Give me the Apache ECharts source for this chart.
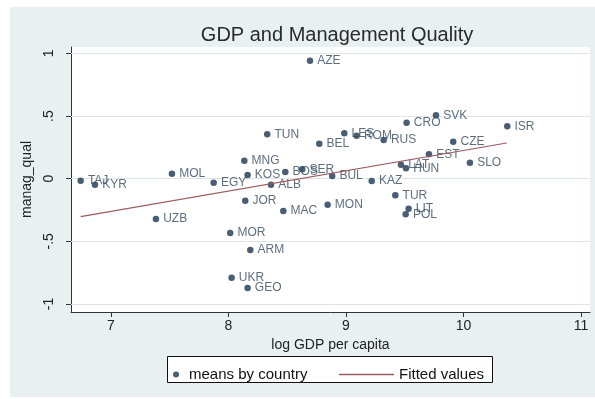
<!DOCTYPE html>
<html>
<head>
<meta charset="utf-8">
<script src="https://cdn.jsdelivr.net/npm/echarts@6/dist/echarts.min.js"></script>
<style>
  html, body { margin: 0; padding: 0; background: #ffffff; }
  #chart { width: 595px; height: 399px; }
</style>
</head>
<body>
<div id="chart"></div>
<script>
// Country codes with mean log GDP per capita and mean management quality
const countries = ['AZE','TUN','BEL','MNG','MOL','KOS','BOS','SER','TAJ','KYR','EGY','ALB','JOR','MAC','MON','UZB','MOR','ARM','UKR','GEO','CRO','SVK','ISR','LES','ROM','RUS','CZE','EST','LAT','HUN','SLO','BUL','KAZ','TUR','LIT','POL'];
const logGdp = [8.694,8.330,8.773,8.135,7.519,8.163,8.484,8.628,6.742,6.864,7.874,8.362,8.143,8.467,8.844,7.383,8.015,8.186,8.027,8.163,9.516,9.766,10.373,8.986,9.091,9.321,9.913,9.706,9.468,9.511,10.055,8.883,9.219,9.420,9.533,9.508];
const managQual = [0.942,0.354,0.279,0.144,0.040,0.030,0.053,0.075,-0.016,-0.048,-0.032,-0.048,-0.176,-0.258,-0.208,-0.322,-0.433,-0.569,-0.790,-0.872,0.447,0.506,0.418,0.362,0.343,0.309,0.295,0.195,0.112,0.083,0.128,0.022,-0.018,-0.132,-0.239,-0.284];

// Fitted regression line, end points
const fitX = [6.742, 10.368];
const fitY = [-0.303, 0.285];

// Axis ticks
const xTicks = [7, 8, 9, 10, 11];
const yTicks = [-1, -0.5, 0, 0.5, 1];
const yTickLabels = ['-1', '-.5', '0', '.5', '1'];

const FONT = 'Liberation Sans, Arial, sans-serif';
const DOT = '#1b3652';
const FIT = '#9a5b5e';

const chart = echarts.init(document.getElementById('chart'), null, { renderer: 'canvas' });

chart.setOption({
  animation: false,
  backgroundColor: 'transparent',
  title: {
    text: 'GDP and Management Quality',
    left: 332,
    textAlign: 'center',
    top: 20,
    textStyle: { fontFamily: FONT, fontSize: 20, fontWeight: 'normal', color: '#2a2a2a' }
  },
  graphic: [
    { type: 'rect', z: -10, silent: true,
      shape: { x: 10, y: 7, width: 585, height: 390 },
      style: { fill: '#e9f0f2' } },
    { type: 'rect', z: 10, silent: true,
      shape: { x: 167.5, y: 356.5, width: 325, height: 26 },
      style: { fill: '#ffffff', stroke: '#111', lineWidth: 1 } }
  ],
  grid: {
    left: 71, right: 5, top: 47, bottom: 87,
    show: true, backgroundColor: '#ffffff', borderWidth: 0
  },
  legend: [
    {
      data: ['means by country'],
      left: 168, top: 362, z: 20,
      itemWidth: 16, itemHeight: 6, icon: 'circle',
      textStyle: { fontFamily: FONT, fontSize: 15, color: '#111' }
    },
    {
      data: [{ name: 'Fitted values', icon: 'rect' }],
      left: 334, top: 362, z: 20,
      itemWidth: 55, itemHeight: 1.5,
      textStyle: { fontFamily: FONT, fontSize: 15, color: '#111' }
    }
  ],
  xAxis: {
    type: 'value',
    min: 6.66, max: 11.077,
    name: 'log GDP per capita',
    nameLocation: 'middle',
    nameGap: 20,
    nameTextStyle: { fontFamily: FONT, fontSize: 14, color: '#222' },
    axisLine: { show: true, onZero: false, lineStyle: { color: '#333', width: 1 } },
    axisTick: { show: true, length: 5, customValues: xTicks, lineStyle: { color: '#333' } },
    axisLabel: { customValues: xTicks, fontFamily: FONT, fontSize: 14, color: '#222', margin: 7 },
    splitLine: { show: false }
  },
  yAxis: {
    type: 'value',
    min: -1.064, max: 1.051,
    name: 'manag_qual',
    nameLocation: 'middle',
    nameGap: 33,
    nameTextStyle: { fontFamily: FONT, fontSize: 14, color: '#222' },
    axisLine: { show: true, onZero: false, lineStyle: { color: '#333', width: 1 } },
    axisTick: { show: true, length: 5, customValues: yTicks, lineStyle: { color: '#333' } },
    axisLabel: {
      customValues: yTicks, rotate: 90, margin: 15,
      fontFamily: FONT, fontSize: 14, color: '#222',
      formatter: v => yTickLabels[yTicks.findIndex(t => Math.abs(t - v) < 1e-9)]
    },
    splitLine: { show: false }
  },
  series: [
    {
      name: 'means by country',
      type: 'scatter',
      z: 3,
      symbol: 'circle',
      symbolSize: 6.5,
      itemStyle: { color: DOT },
      data: logGdp.map((x, i) => [x, managQual[i], countries[i]]),
      label: {
        show: true,
        position: 'right',
        distance: 4,
        formatter: p => p.value[2],
        fontFamily: FONT, fontSize: 12, color: '#34495e'
      },
      markLine: {
        silent: true,
        symbol: 'none',
        label: { show: false },
        lineStyle: { color: '#dfe4e6', type: 'solid', width: 1 },
        z: 1,
        data: yTicks.map(v => ({ yAxis: v }))
      }
    },
    {
      name: 'Fitted values',
      type: 'line',
      z: 4,
      symbol: 'none',
      lineStyle: { color: FIT, width: 1.2 },
      itemStyle: { color: FIT },
      data: fitX.map((x, i) => [x, fitY[i]])
    }
  ]
});
</script>
</body>
</html>
